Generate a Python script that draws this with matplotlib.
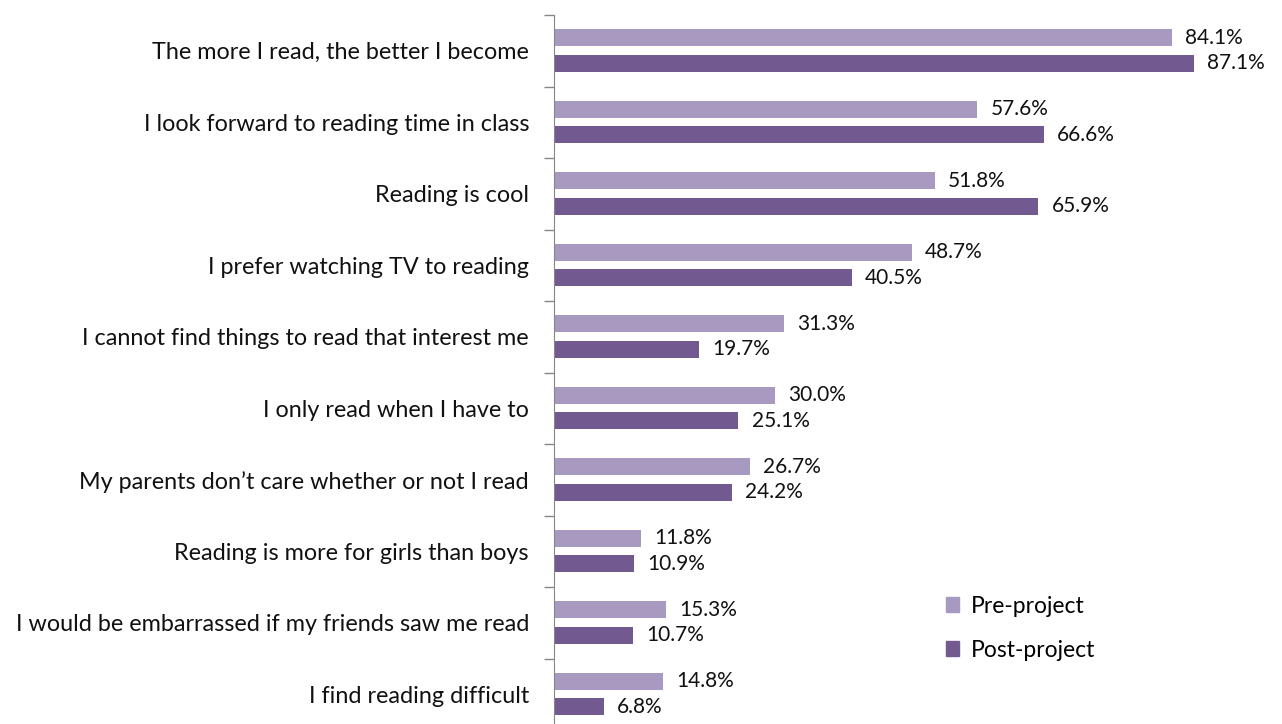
import numpy as np
import matplotlib.pyplot as plt
from matplotlib.patches import Patch

plt.rcParams['font.family'] = ['Lato', 'DejaVu Sans']

# statements, top to bottom
statements = [
    "The more I read, the better I become",
    "I look forward to reading time in class",
    "Reading is cool",
    "I prefer watching TV to reading",
    "I cannot find things to read that interest me",
    "I only read when I have to",
    "My parents don\u2019t care whether or not I read",
    "Reading is more for girls than boys",
    "I would be embarrassed if my friends saw me read",
    "I find reading difficult",
]
pre_project = [84.1, 57.6, 51.8, 48.7, 31.3, 30.0, 26.7, 11.8, 15.3, 14.8]
post_project = [87.1, 66.6, 65.9, 40.5, 19.7, 25.1, 24.2, 10.9, 10.7, 6.8]

pre_color = '#A899C1'
post_color = '#725A91'

W, H = 1282, 724
fig = plt.figure(figsize=(W / 100, H / 100), dpi=100)
# axes placed in pixels: axis line at x=554, first category boundary at y=15, 71.5 px per category
ax_left, ax_top, unit = 554, 15, 71.5
ax_w = 95 * 7.35
ax_h = unit * len(statements)
ax = fig.add_axes([ax_left / W, 1 - (ax_top + ax_h) / H, ax_w / W, ax_h / H])

y = np.arange(len(statements))
h = 0.24
ax.barh(y - 0.18, pre_project, height=h, color=pre_color)
ax.barh(y + 0.175, post_project, height=h, color=post_color)

for yi, v in zip(y, pre_project):
    ax.text(v + 1.8, yi - 0.18, f"{v:.1f}%", va='center', ha='left', fontsize=15, color='#111111')
for yi, v in zip(y, post_project):
    ax.text(v + 1.8, yi + 0.175, f"{v:.1f}%", va='center', ha='left', fontsize=15, color='#111111')

ax.set_xlim(0, 95)
ax.set_ylim(len(statements) - 0.5, -0.5)

ax.set_yticks(y)
ax.set_yticklabels(statements, fontsize=16.8, color='#111111')
ax.tick_params(axis='y', which='major', length=0, pad=18)
ax.set_yticks(np.arange(-0.5, len(statements), 1.0), minor=True)
ax.tick_params(axis='y', which='minor', length=7, width=1, color='#868686')
ax.set_xticks([])

for s in ['top', 'right', 'bottom']:
    ax.spines[s].set_visible(False)
ax.spines['left'].set_color('#868686')

handles = [Patch(color=pre_color), Patch(color=post_color)]
fig.legend(handles, ['Pre-project', 'Post-project'], loc='upper left',
           bbox_to_anchor=(925 / W, 1 - 575 / H), frameon=False, fontsize=16.5,
           handlelength=0.6, handleheight=0.6, handletextpad=0.5, labelspacing=1.0)

fig.savefig('out.png', dpi=100)
